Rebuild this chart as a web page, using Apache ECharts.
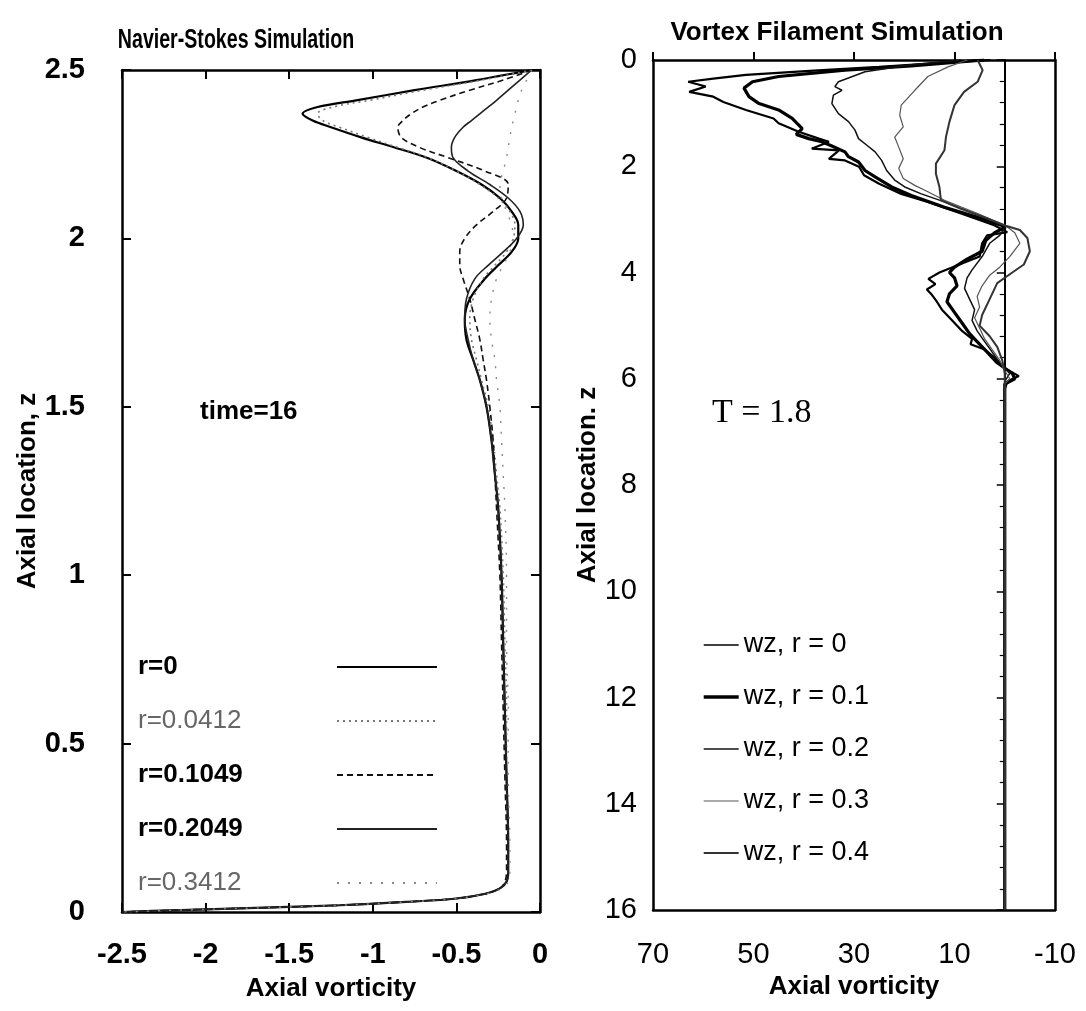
<!DOCTYPE html>
<html>
<head>
<meta charset="utf-8">
<script src="https://cdn.jsdelivr.net/npm/echarts@6/dist/echarts.min.js"></script>
<style>
  html, body { margin: 0; padding: 0; background: #fff; }
  #chart { width: 1086px; height: 1011px; }
</style>
</head>
<body>
<div id="chart"></div>
<script>
// ---------- Navier-Stokes panel: axial vorticity vs axial location ----------
const nsZ = [2.5, 2.47, 2.44, 2.41, 2.39, 2.37, 2.35, 2.33, 2.3, 2.27,
             2.24, 2.2, 2.16, 2.12, 2.08, 2.04, 2.0, 1.96, 1.92, 1.88,
             1.82, 1.76, 1.7, 1.64, 1.58, 1.5, 1.4, 1.3, 1.2, 1.0,
             0.8, 0.6, 0.4, 0.2, 0.12, 0.09, 0.07, 0.055, 0.04, 0.03,
             0.02, 0.012, 0.005, 0];
const nsR0 = [-0.05, -0.38, -0.75, -1.1, -1.33, -1.42, -1.36, -1.25, -1.07, -0.87,
              -0.68, -0.5, -0.35, -0.24, -0.17, -0.13, -0.13, -0.17, -0.25, -0.33,
              -0.42, -0.45, -0.44, -0.4, -0.36, -0.32, -0.29, -0.27, -0.25, -0.23,
              -0.22, -0.21, -0.2, -0.19, -0.19, -0.2, -0.24, -0.32, -0.5, -0.8,
              -1.2, -1.7, -2.2, -2.5];
const nsR0412 = [-0.05, -0.35, -0.7, -1.02, -1.24, -1.33, -1.3, -1.2, -1.03, -0.85,
                 -0.67, -0.5, -0.36, -0.25, -0.18, -0.15, -0.16, -0.2, -0.27, -0.34,
                 -0.4, -0.42, -0.41, -0.38, -0.35, -0.31, -0.28, -0.26, -0.24, -0.22,
                 -0.21, -0.2, -0.2, -0.19, -0.19, -0.2, -0.24, -0.32, -0.5, -0.8,
                 -1.2, -1.7, -2.2, -2.5];
const nsR1049 = [-0.05, -0.22, -0.42, -0.6, -0.7, -0.77, -0.82, -0.85, -0.83, -0.72,
                 -0.55, -0.33, -0.19, -0.2, -0.28, -0.38, -0.45, -0.48, -0.48, -0.46,
                 -0.42, -0.39, -0.36, -0.34, -0.32, -0.3, -0.28, -0.27, -0.26, -0.24,
                 -0.23, -0.22, -0.21, -0.2, -0.2, -0.21, -0.24, -0.32, -0.5, -0.8,
                 -1.2, -1.7, -2.2, -2.5];
const nsR2049 = [-0.05, -0.12, -0.19, -0.26, -0.31, -0.36, -0.41, -0.46, -0.51, -0.53,
                 -0.52, -0.43, -0.3, -0.19, -0.12, -0.1, -0.14, -0.22, -0.31, -0.39,
                 -0.44, -0.45, -0.43, -0.4, -0.36, -0.32, -0.29, -0.27, -0.25, -0.23,
                 -0.22, -0.21, -0.2, -0.19, -0.19, -0.2, -0.24, -0.32, -0.5, -0.8,
                 -1.2, -1.7, -2.2, -2.5];
const nsR3412 = [-0.05, -0.08, -0.11, -0.13, -0.14, -0.15, -0.16, -0.17, -0.18, -0.19,
                 -0.2, -0.22, -0.24, -0.23, -0.2, -0.17, -0.16, -0.18, -0.22, -0.26,
                 -0.29, -0.3, -0.29, -0.27, -0.26, -0.24, -0.23, -0.22, -0.21, -0.2,
                 -0.2, -0.19, -0.19, -0.18, -0.18, -0.19, -0.23, -0.31, -0.5, -0.8,
                 -1.2, -1.7, -2.2, -2.5];
const nsNames = ['r=0', 'r=0.0412', 'r=0.1049', 'r=0.2049', 'r=0.3412'];
const nsXTicks = [-2.5, -2, -1.5, -1, -0.5, 0];
const nsXLabels = ['-2.5', '-2', '-1.5', '-1', '-0.5', '0'];
const nsYTicks = [0, 0.5, 1, 1.5, 2, 2.5];
const nsYLabels = ['0', '0.5', '1', '1.5', '2', '2.5'];

// ---------- Vortex filament panel ----------
const vfZ0 = [0, 0.05, 0.13, 0.2, 0.28, 0.35, 0.41, 0.5, 0.6, 0.69,
              0.79, 0.94, 1.1, 1.19, 1.35, 1.48, 1.54, 1.67, 1.7, 1.86,
              1.89, 2.01, 2.17, 2.33, 2.52, 2.67, 2.89, 3.11, 3.24, 3.3,
              3.45, 3.7, 3.85, 4.0, 4.12, 4.22, 4.32, 4.42, 4.55, 4.7,
              4.9, 5.1, 5.25, 5.35, 5.45, 5.6, 5.8, 5.95, 6.05, 6.2,
              8, 10, 12, 14, 16];
const vfW0 = [2.8, 12, 25, 38, 51.5, 58, 63, 59.5, 62.8, 58,
              56, 51.5, 46, 45, 41, 37, 35, 38.4, 33, 35,
              31.8, 29, 28, 25, 20.6, 15.3, 8.7, 2.1, -0.5, 3.5,
              4.5, 5, 9, 13, 15.2, 13.8, 15.5, 14.5, 13.5, 12.5,
              10.5, 8.5, 6.5, 6.8, 4, 2, 0, -2.8, -0.5, 0,
              0, 0, 0, 0, 0];
const vfZ1 = [0, 0.11, 0.19, 0.31, 0.41, 0.53, 0.69, 0.82, 0.94, 1.1,
              1.29, 1.4, 1.48, 1.54, 1.62, 1.73, 1.82, 1.92, 2.08, 2.2,
              2.39, 2.55, 2.77, 2.96, 3.14, 3.25, 3.4, 3.6, 3.75, 3.9,
              4.0, 4.1, 4.25, 4.4, 4.55, 4.75, 4.95, 5.15, 5.3, 5.5,
              5.7, 5.9, 6.0, 6.1, 8, 10, 12, 14, 16];
const vfW1 = [4.1, 18.6, 31.8, 45, 50.2, 51.9, 50.9, 48.9, 45, 42.3,
              40.3, 41.5, 39, 36.4, 34.4, 31.8, 31.1, 29.1, 27.8, 25.8,
              22.5, 18.6, 12, 5.4, -0.2, 2, 3.8, 4.5, 7.5, 10,
              11, 10, 9.5, 11, 11.5, 10, 8.5, 7, 5.5, 3.5,
              1.5, -1.5, -2, 0, 0, 0, 0, 0, 0];
const vfZ2 = [0, 0.09, 0.22, 0.41, 0.5, 0.57, 0.66, 0.82, 1.01, 1.16,
              1.32, 1.48, 1.6, 1.73, 1.89, 2.08, 2.26, 2.39, 2.52, 2.67,
              2.92, 3.13, 3.3, 3.45, 3.7, 3.95, 4.1, 4.3, 4.5, 4.7,
              4.9, 5.1, 5.3, 5.5, 5.7, 5.9, 6.05, 8, 10, 12,
              14, 16];
const vfW2 = [8.7, 18.6, 27.8, 33.1, 33.8, 32.4, 34.1, 34.4, 33.1, 31.1,
              29.8, 29.1, 27.5, 25.8, 24.5, 23.5, 21.9, 19.9, 16.6, 12,
              5.4, -0.2, 1, 3, 4.5, 6.5, 7.5, 8, 7, 6,
              6.5, 5.5, 4, 2.5, 1, -1, 0, 0, 0, 0,
              0, 0];
const vfZ3 = [0, 0.13, 0.31, 0.57, 0.85, 1.04, 1.26, 1.45, 1.64, 1.86,
              2.04, 2.23, 2.36, 2.48, 2.64, 2.89, 3.12, 3.25, 3.45, 3.7,
              3.9, 4.05, 4.25, 4.45, 4.65, 4.85, 5.05, 5.25, 5.45, 5.65,
              5.85, 6.0, 6.1, 8, 10, 12, 14, 16];
const vfW3 = [7.4, 11.3, 15.3, 17.9, 20.6, 20.9, 20.2, 21.9, 21.1, 20.2,
              21.1, 20.2, 17.9, 15.3, 12, 5.4, -0.2, -2, -3, -1,
              1, 3, 4.5, 5.5, 5, 6, 5, 4, 2.5, 1,
              0, -1, 0, 0, 0, 0, 0, 0];
const vfZ4 = [0, 0.19, 0.41, 0.6, 0.85, 1.16, 1.45, 1.7, 1.95, 2.14,
              2.39, 2.64, 2.8, 2.96, 3.12, 3.2, 3.35, 3.6, 3.85, 4.0,
              4.2, 4.5, 4.8, 5.0, 5.2, 5.4, 5.65, 5.9, 8, 10,
              12, 14, 16];
const vfW4 = [5.4, 4.4, 5.4, 8.1, 10, 11, 11.7, 12, 13.7, 13.7,
              13, 12.7, 8.7, 4.1, -0.2, -3, -4.5, -5, -3.8, -1.5,
              1.5, 3, 4.5, 5, 3, 1.5, 0.5, 0, 0, 0,
              0, 0, 0];
const vfNames = ['wz, r = 0', 'wz, r = 0.1', 'wz, r = 0.2', 'wz, r = 0.3', 'wz, r = 0.4'];
const vfXTicks = [-10, 10, 30, 50, 70];
const vfXLabels = ['-10', '10', '30', '50', '70'];
const vfYTicks = [0, 2, 4, 6, 8, 10, 12, 14, 16];
const vfYLabels = ['0', '2', '4', '6', '8', '10', '12', '14', '16'];

// ---------- helpers ----------
const SANS = '"Liberation Sans", Arial, Helvetica, sans-serif';
const SERIF = '"Liberation Serif", "Times New Roman", serif';

function pairs(xs, zs) { return zs.map((z, i) => [xs[i], z]); }
function lookup(ticks, labels) {
  return v => {
    const i = ticks.findIndex(t => Math.abs(t - v) < 1e-9);
    return i < 0 ? '' : labels[i];
  };
}
function frame(extra) {
  return Object.assign({
    type: 'value',
    splitLine: { show: false },
    axisLine: { show: true, onZero: false, lineStyle: { color: '#000', width: 2.5 } },
    axisTick: { show: true, inside: true, length: 9, lineStyle: { color: '#000', width: 2 } },
    axisLabel: { show: false }
  }, extra);
}
const nameStyle = { fontFamily: SANS, fontWeight: 'bold', fontSize: 26, color: '#000' };

const nsSeriesData = [nsR0, nsR0412, nsR1049, nsR2049, nsR3412];
const nsLineStyles = [
  { color: '#000', width: 2.2, type: 'solid' },
  { color: '#777', width: 1.6, type: [2, 4] },
  { color: '#111', width: 1.6, type: [6, 4] },
  { color: '#222', width: 1.6, type: 'solid' },
  { color: '#888', width: 1.4, type: [2, 9] }
];
const vfSeriesData = [[vfW0, vfZ0], [vfW1, vfZ1], [vfW2, vfZ2], [vfW3, vfZ3], [vfW4, vfZ4]];
const vfLineStyles = [
  { color: '#000', width: 2.2 },
  { color: '#000', width: 3.2 },
  { color: '#111', width: 1.5 },
  { color: '#555', width: 1.2 },
  { color: '#333', width: 2.0 }
];
const vfLegendWidths = [1.6, 3.4, 1.6, 1.2, 2.2];

const series = [];
nsNames.forEach((name, i) => {
  series.push({
    name, type: 'line', xAxisIndex: 0, yAxisIndex: 0,
    smooth: 0.35, symbol: 'none', showSymbol: false,
    itemStyle: { color: nsLineStyles[i].color },
    lineStyle: nsLineStyles[i],
    data: pairs(nsSeriesData[i], nsZ)
  });
});
vfNames.forEach((name, i) => {
  series.push({
    name, type: 'line', xAxisIndex: 2, yAxisIndex: 2,
    symbol: 'none', showSymbol: false,
    itemStyle: { color: vfLineStyles[i].color },
    lineStyle: vfLineStyles[i],
    data: pairs(vfSeriesData[i][0], vfSeriesData[i][1])
  });
});

const nsRichBold = { fontFamily: SANS, fontWeight: 'bold', fontSize: 26, color: '#000', width: 194, align: 'left' };
const nsRichGray = { fontFamily: SANS, fontWeight: 'normal', fontSize: 26, color: '#666', width: 194, align: 'left' };

const option = {
  animation: false,
  backgroundColor: '#fff',
  grid: [
    { left: 122, top: 70, width: 418, height: 842 },
    { left: 653, top: 60, width: 402, height: 850 }
  ],
  xAxis: [
    frame({
      gridIndex: 0, position: 'bottom', min: -2.5, max: 0, interval: 0.5,
      axisLabel: { show: true, margin: 28, fontFamily: SANS, fontWeight: 'bold', fontSize: 29, color: '#000',
                   formatter: lookup(nsXTicks, nsXLabels) },
      name: 'Axial vorticity', nameLocation: 'middle', nameGap: 64, nameTextStyle: nameStyle
    }),
    frame({ gridIndex: 0, position: 'top', min: -2.5, max: 0, interval: 0.5 }),
    frame({
      gridIndex: 1, position: 'bottom', min: -10, max: 70, interval: 20, inverse: true,
      axisTick: { show: false },
      axisLabel: { show: true, margin: 30, fontFamily: SANS, fontSize: 29, color: '#000',
                   formatter: lookup(vfXTicks, vfXLabels) },
      name: 'Axial vorticity', nameLocation: 'middle', nameGap: 62, nameTextStyle: nameStyle
    }),
    frame({
      gridIndex: 1, position: 'top', min: -10, max: 70, interval: 20, inverse: true,
      axisTick: { show: true, inside: false, length: 8, lineStyle: { color: '#000', width: 2 } }
    })
  ],
  yAxis: [
    frame({
      gridIndex: 0, position: 'left', min: 0, max: 2.5, interval: 0.5,
      axisLabel: { show: true, margin: 37, fontFamily: SANS, fontWeight: 'bold', fontSize: 29, color: '#000',
                   formatter: lookup(nsYTicks, nsYLabels) },
      name: 'Axial location, z', nameLocation: 'middle', nameGap: 79, nameRotate: 90, nameTextStyle: nameStyle
    }),
    frame({ gridIndex: 0, position: 'right', min: 0, max: 2.5, interval: 0.5 }),
    frame({
      gridIndex: 1, position: 'left', min: 0, max: 16, interval: 2, inverse: true,
      axisTick: { show: false },
      axisLabel: { show: true, margin: 16, fontFamily: SANS, fontSize: 29, color: '#000',
                   formatter: lookup(vfYTicks, vfYLabels) },
      name: 'Axial location. z', nameLocation: 'middle', nameGap: 38, nameRotate: 90, nameTextStyle: nameStyle
    }),
    // zero-vorticity reference line with its own tick marks
    frame({
      gridIndex: 1, position: 'right', min: 0, max: 16, interval: 2, inverse: true,
      axisLine: { show: true, onZero: true, lineStyle: { color: '#000', width: 2 } },
      axisTick: { show: true, inside: true, length: 8, lineStyle: { color: '#000', width: 1.5 } },
      minorTick: { show: true, splitNumber: 5, length: 5, lineStyle: { color: '#000', width: 1.2 } }
    }),
    frame({
      gridIndex: 1, position: 'right', min: 0, max: 16, interval: 2, inverse: true,
      axisTick: { show: false }
    })
  ],
  legend: [
    {
      data: nsNames, orient: 'vertical', left: 133, top: 648, align: 'right',
      itemWidth: 100, itemHeight: 14, itemGap: 26, selectedMode: false,
      itemStyle: { opacity: 0, borderWidth: 0 },
      formatter: name => (name === 'r=0.0412' || name === 'r=0.3412') ? '{g|' + name + '}' : '{b|' + name + '}',
      textStyle: { fontSize: 26, lineHeight: 28, rich: { b: nsRichBold, g: nsRichGray } }
    },
    {
      data: vfNames.map((name, i) => ({
        name, lineStyle: { width: vfLegendWidths[i], color: vfLineStyles[i].color }
      })),
      orient: 'vertical', left: 697, top: 626, align: 'left',
      itemWidth: 35, itemHeight: 14, itemGap: 24, selectedMode: false,
      itemStyle: { opacity: 0, borderWidth: 0 },
      textStyle: { fontFamily: SANS, fontSize: 27, lineHeight: 28, color: '#000' }
    }
  ],
  graphic: [
    { type: 'text', x: 236, y: 40, scaleX: 0.7,
      style: { text: 'Navier-Stokes Simulation', font: 'bold 28px ' + SANS, fill: '#000', align: 'center', verticalAlign: 'middle' } },
    { type: 'text', x: 837, y: 33,
      style: { text: 'Vortex Filament Simulation', font: 'bold 26px ' + SANS, fill: '#000', align: 'center', verticalAlign: 'middle' } },
    { type: 'text', x: 200, y: 412,
      style: { text: 'time=16', font: 'bold 26px ' + SANS, fill: '#000', align: 'left', verticalAlign: 'middle' } },
    { type: 'text', x: 712, y: 413,
      style: { text: 'T = 1.8', font: '34px ' + SERIF, fill: '#000', align: 'left', verticalAlign: 'middle' } }
  ],
  series
};

const chart = echarts.init(document.getElementById('chart'), null, { renderer: 'canvas' });
chart.setOption(option);
</script>
</body>
</html>
